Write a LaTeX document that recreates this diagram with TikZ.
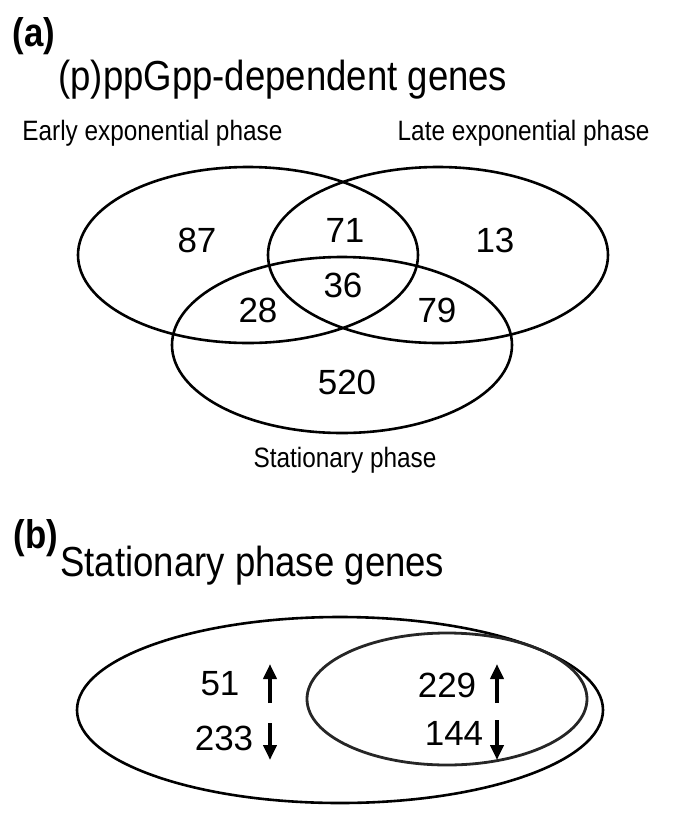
\documentclass[tikz,border=0pt]{standalone}
\usepackage{fontspec}
\setmainfont{Liberation Sans}
\newfontfamily\narrowsf[FakeStretch=0.87]{Liberation Sans}
\usetikzlibrary{arrows.meta,positioning}
\tikzset{
  setline/.style={draw=black, line width=1.3pt},
  subline/.style={draw=black!85, line width=1.4pt},
  countlbl/.style={font=\fontsize{17.5}{19}\selectfont, inner sep=0pt},
  phaselbl/.style={font=\narrowsf\fontsize{14}{16}\selectfont, inner sep=0pt},
  titlelbl/.style={font=\narrowsf\fontsize{21}{24}\selectfont, inner sep=0pt, anchor=west},
  panellbl/.style={font=\narrowsf\bfseries\fontsize{20}{22}\selectfont, inner sep=0pt},
  regarrow/.style={-{Triangle[length=7.5pt,width=6.5pt]}, line width=2pt},
}

\begin{document}
\begin{tikzpicture}[x=0.5pt, y=-0.5pt]
  \useasboundingbox (0,0) rectangle (685,816);
  % (a) Venn diagram of the three phases
  \node[panellbl] (pa) at (34,36) {(a)};
  \node[titlelbl] (ta) at (58,80) {(p)ppGpp-dependent genes};
  \node[phaselbl, anchor=west] (early) at (22,133) {Early exponential phase};
  \node[phaselbl, anchor=east] (late) at (650,133) {Late exponential phase};
  \draw[setline] (248,255) ellipse [x radius=170, y radius=88];
  \draw[setline] (438,255) ellipse [x radius=170, y radius=88];
  \draw[setline] (342,345) ellipse [x radius=170, y radius=88];
  \node[countlbl] (n87)  at (197,240) {87};
  \node[countlbl] (n71)  at (345,230) {71};
  \node[countlbl] (n13)  at (495,240) {13};
  \node[countlbl] (n28)  at (258,310) {28};
  \node[countlbl] (n36)  at (343,285) {36};
  \node[countlbl] (n79)  at (437,310) {79};
  \node[countlbl] (n520) at (347,382) {520};
  \node[phaselbl] (stat) at (345,460) {Stationary phase};
  % (b) stationary phase genes
  \node[panellbl] (pb) at (36,538) {(b)};
  \node[titlelbl] (tb) at (60,566) {Stationary phase genes};
  \draw[setline] (340,710) ellipse [x radius=263, y radius=93];
  \draw[subline] (447,699) ellipse [x radius=140, y radius=66];
  \node[countlbl] (n51)  at (220,684) {51};
  \node[countlbl] (n233) at (224,738) {233};
  \node[countlbl] (n229) at (447,685) {229};
  \node[countlbl] (n144) at (454,733) {144};
  \coordinate (up1a) at (270,703);  \coordinate (up1b) at (270,664);
  \coordinate (dn1a) at (270,723);  \coordinate (dn1b) at (270,760);
  \coordinate (up2a) at (497,703);  \coordinate (up2b) at (497,664);
  \coordinate (dn2a) at (497,720);  \coordinate (dn2b) at (497,760);
  \draw[regarrow] (up1a) -- (up1b);
  \draw[regarrow] (dn1a) -- (dn1b);
  \draw[regarrow] (up2a) -- (up2b);
  \draw[regarrow] (dn2a) -- (dn2b);
\end{tikzpicture}
\end{document}
